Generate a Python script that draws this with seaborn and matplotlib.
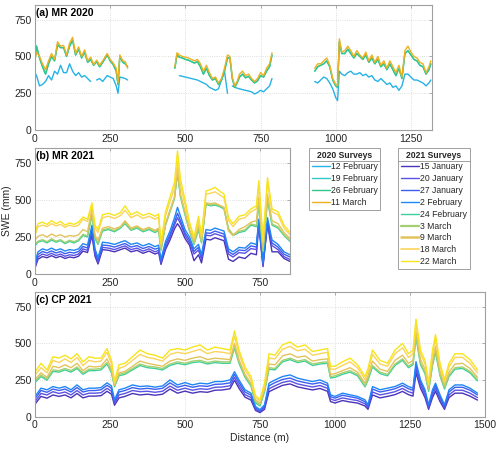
import numpy as np
import pandas as pd
import matplotlib
matplotlib.use('Agg')
import matplotlib.pyplot as plt
import seaborn as sns
from matplotlib.lines import Line2D

nan = np.nan

# ---------------- (a) MR 2020 ----------------
dist_a = [0, 5, 15, 25, 35, 45, 55, 65, 75, 85, 95, 105, 115, 125, 135, 145, 155, 165, 175, 185,
          195, 205, 215, 225, 240, 250, 260, 270, 276, 282, 292, 300, 308,
          nan,
          465, 472, 480, 490, 500, 510, 520, 530, 540, 550, 560, 570, 580, 590, 600, 610, 620, 630,
          640, 648, 656, 664, 672, 680, 690, 700, 710, 720, 730, 740, 750, 760, 770, 780, 788,
          nan,
          930, 940, 950, 960, 970, 980, 990, 1000, 1006, 1012, 1020, 1030, 1040, 1050, 1060, 1070,
          1080, 1090, 1100, 1110, 1120, 1130, 1140, 1150, 1160, 1170, 1180, 1190, 1200, 1210, 1220,
          1230, 1240, 1250, 1260, 1270, 1280, 1290, 1300, 1310, 1316]

a_feb12 = [390, 370, 300, 310, 330, 370, 340, 400, 380, 440, 390, 390, 450, 400, 370, 390, 360, 370, 350, 330,
           nan, 340, 350, 330, 370, 360, 350, 300, 250, 360, 355, 350, 340,
           nan,
           345, nan, 370, 365, 360, 355, 350, 345, 340, 330, 320, 310, 290, 280, 270, 280, 340, 400,
           250, nan, 300, 290, 285, 280, 275, 270, 265, 260, 245, 255, 270, 260, 280, 300, 350,
           nan,
           330, 320, 340, 360, 350, 320, 280, 220, 200, 400, 380, 370, 390, 400, 380, 380,
           390, 370, 380, 360, 370, 340, 330, 350, 330, 310, 320, 290, 300, 270, 300,
           380, 380, 360, 340, 340, 330, 320, 300, 320, 340]
a_feb26 = [470, 570, 490, 430, 380, 450, 500, 470, 580, 560, 560, 500, 570, 610, 510, 550, 490, 530, 460, 480,
           440, 465, 430, 460, 510, 470, 445, 400, 310, 500, 460, 450, 430,
           nan,
           420, 510, 495, 490, 480, 475, 465, 455, 465, 430, 380, 420, 370, 340, 350, 310, 340, 400,
           490, 490, 350, 290, 320, 360, 380, 355, 365, 340, 320, 335, 370, 360, 400, 430, 510,
           nan,
           400, 430, 440, 450, 470, 430, 340, 300, 290, 600, 520, 520, 550, 520, 490, 520,
           500, 480, 510, 460, 490, 450, 480, 430, 450, 410, 450, 410, 370, 420, 350,
           520, 540, 510, 480, 470, 440, 430, 380, 410, 450]
a_feb19 = list(a_feb26)
a_mar11 = [480, 530, 500, 450, 410, 470, 520, 480, 600, 570, 575, 510, 590, 630, 520, 565, 500, 545, 470, 495,
           445, 475, 440, 470, 520, 480, 455, 420, 320, 510, 470, 465, 420,
           nan,
           430, 525, 510, 500, 495, 490, 480, 470, 480, 450, 400, 440, 390, 350, 360, 320, 350, 420,
           510, 500, 360, 300, 330, 380, 400, 370, 380, 350, 330, 350, 390, 370, 420, 450, 525,
           nan,
           420, 450, 450, 470, 490, 440, 350, 310, 300, 620, 530, 540, 570, 540, 500, 540,
           510, 490, 530, 470, 510, 460, 500, 440, 470, 420, 470, 430, 390, 440, 360,
           540, 570, 530, 500, 490, 460, 450, 390, 430, 470]

# ---------------- (b) MR 2021 ----------------
dist_b = [0, 10, 25, 40, 55, 70, 85, 100, 115, 130, 145, 160, 175, 190, 200, 210, 225, 245, 265, 285,
          300, 320, 340, 360, 380, 400, 412, 420, 435, 450, 465, 475, 485, 500, 515, 530, 545, 555, 570, 585,
          600, 615, 630, 645, 660, 680, 700, 720, 738, 746, 760, 775, 790, 810, 830, 850]

b_jan15 = [40, 100, 118, 110, 124, 110, 120, 105, 115, 110, 120, 155, 145, 260, 120, 68, 165, 160, 150, 165,
           175, 150, 160, 140, 155, 135, 145, 65, 165, 230, 305, 340, 310, 240, 195, 90, 130, 75, 235, 230,
           245, 235, 225, 100, 85, 115, 105, 140, 130, 330, 50, 335, 150, 150, 105, 85]
b_jan20 = [52, 115, 135, 125, 140, 125, 135, 120, 130, 125, 135, 170, 160, 280, 135, 80, 180, 175, 165, 180,
           190, 165, 175, 155, 170, 150, 160, 76, 182, 250, 330, 380, 340, 262, 212, 135, 162, 98, 262, 258,
           272, 262, 252, 135, 115, 145, 140, 172, 165, 345, 60, 345, 192, 165, 118, 98]
b_jan27 = [65, 132, 152, 142, 156, 142, 152, 137, 147, 142, 152, 186, 176, 300, 152, 94, 196, 192, 182, 196,
           206, 182, 192, 172, 186, 168, 176, 88, 200, 268, 350, 410, 360, 278, 230, 152, 180, 114, 278, 275,
           290, 280, 270, 152, 132, 162, 158, 190, 182, 350, 70, 355, 210, 182, 134, 115]
b_feb2 = [80, 150, 170, 160, 175, 160, 170, 155, 165, 160, 170, 205, 195, 330, 170, 110, 215, 210, 200, 215,
          225, 200, 210, 190, 205, 185, 195, 100, 220, 290, 380, 450, 390, 300, 250, 170, 200, 130, 300, 295,
          310, 300, 290, 170, 150, 180, 175, 210, 200, 370, 80, 380, 230, 200, 150, 130]
b_feb24 = [190, 215, 225, 210, 230, 215, 225, 205, 220, 210, 225, 260, 250, 400, 240, 200, 290, 300, 285, 310,
           340, 295, 310, 285, 300, 280, 295, 160, 330, 420, 510, 680, 520, 400, 290, 200, 300, 210, 470, 460,
           465, 455, 440, 300, 260, 280, 290, 330, 320, 470, 150, 500, 330, 310, 260, 220]
b_mar3 = [200, 222, 232, 218, 238, 222, 232, 212, 228, 218, 232, 268, 258, 410, 248, 208, 298, 308, 292, 318,
          348, 302, 318, 292, 308, 288, 302, 166, 336, 428, 518, 690, 528, 408, 296, 206, 306, 216, 476, 466,
          472, 462, 446, 306, 266, 288, 298, 338, 328, 480, 156, 508, 338, 318, 266, 226]
b_mar9 = [230, 255, 265, 250, 270, 255, 265, 250, 260, 255, 265, 300, 285, 440, 260, 230, 310, 320, 305, 320,
          360, 310, 325, 300, 315, 295, 310, 180, 340, 430, 520, 710, 540, 420, 300, 225, 330, 230, 480, 475,
          480, 465, 450, 290, 260, 300, 320, 350, 360, 520, 180, 540, 360, 340, 280, 240]
b_mar18 = [260, 320, 330, 320, 340, 325, 335, 315, 330, 320, 330, 370, 355, 460, 310, 280, 380, 390, 375, 395,
           430, 380, 400, 375, 390, 370, 385, 200, 390, 490, 580, 760, 600, 470, 330, 240, 360, 250, 540, 545,
           555, 535, 515, 360, 320, 370, 380, 420, 440, 600, 215, 620, 420, 400, 310, 265]
b_mar22 = [280, 340, 350, 335, 360, 340, 355, 330, 345, 335, 350, 385, 370, 480, 330, 300, 400, 410, 395, 415,
           460, 400, 420, 395, 410, 390, 405, 210, 420, 520, 620, 830, 640, 500, 350, 250, 390, 260, 560, 570,
           585, 560, 540, 380, 340, 390, 400, 440, 460, 630, 230, 650, 440, 420, 330, 280]

# ---------------- (c) CP 2021 ----------------
dist_c = [0, 20, 40, 60, 80, 100, 120, 140, 160, 180, 200, 220, 240, 255, 265, 280, 300, 325, 350, 375,
          400, 425, 450, 475, 500, 525, 550, 575, 600, 625, 650, 665, 680, 700, 720, 735, 750, 765, 780, 800,
          825, 850, 875, 900, 925, 950, 975, 985, 1000, 1025, 1050, 1075, 1100, 1110, 1125, 1150, 1175, 1200,
          1225, 1245, 1260, 1270, 1285, 1300, 1312, 1325, 1335, 1350, 1365, 1380, 1400, 1425, 1450, 1475]

c_jan15 = [88, 140, 128, 150, 140, 150, 130, 160, 130, 142, 142, 145, 175, 155, 80, 130, 140, 160, 150, 155,
           148, 155, 190, 162, 176, 162, 172, 168, 182, 184, 192, 250, 195, 135, 115, 45, 30, 52, 172, 192,
           215, 225, 205, 194, 184, 194, 175, 105, 95, 112, 102, 95, 75, 52, 150, 130, 140, 152,
           174, 152, 142, 300, 196, 132, 52, 132, 175, 105, 52, 132, 162, 162, 142, 115]
c_jan20 = [105, 160, 150, 172, 160, 170, 150, 180, 150, 162, 162, 165, 195, 175, 92, 150, 160, 180, 172, 175,
           168, 175, 210, 182, 196, 182, 192, 188, 202, 204, 212, 270, 215, 152, 132, 52, 36, 62, 192, 212,
           235, 245, 225, 214, 204, 214, 195, 122, 112, 130, 120, 112, 90, 62, 170, 150, 160, 172,
           194, 172, 162, 325, 216, 150, 62, 150, 195, 122, 62, 150, 182, 182, 162, 132]
c_jan27 = [125, 180, 168, 190, 180, 190, 170, 200, 170, 180, 180, 185, 215, 195, 105, 170, 180, 200, 190, 195,
           188, 195, 232, 202, 216, 202, 212, 208, 222, 224, 232, 290, 235, 170, 148, 62, 42, 72, 212, 234,
           255, 265, 245, 234, 224, 234, 214, 138, 128, 148, 138, 128, 104, 72, 190, 170, 180, 192,
           214, 192, 182, 350, 236, 170, 72, 170, 214, 138, 72, 170, 202, 202, 182, 150]
c_feb2 = [140, 196, 185, 207, 196, 207, 185, 218, 185, 196, 196, 200, 232, 211, 117, 185, 196, 218, 207, 211,
          203, 211, 252, 218, 234, 218, 230, 225, 241, 241, 252, 308, 252, 185, 162, 72, 50, 83, 230, 252,
          275, 286, 264, 252, 241, 252, 230, 151, 140, 162, 151, 140, 117, 83, 207, 185, 196, 207,
          230, 207, 196, 376, 252, 185, 83, 185, 230, 151, 83, 185, 218, 218, 196, 162]
c_feb24 = [235, 275, 250, 310, 305, 320, 305, 330, 290, 315, 315, 320, 360, 300, 205, 280, 290, 320, 350, 335,
           330, 320, 350, 365, 355, 370, 375, 360, 370, 365, 365, 470, 365, 270, 210, 95, 75, 170, 325, 320,
           375, 390, 370, 380, 350, 360, 365, 265, 270, 290, 305, 280, 205, 250, 340, 295, 280, 350,
           385, 335, 355, 540, 355, 295, 175, 350, 440, 280, 190, 275, 325, 330, 300, 245]
c_mar3 = [245, 285, 260, 320, 315, 330, 315, 340, 300, 325, 325, 330, 370, 310, 215, 290, 300, 330, 360, 345,
          340, 330, 360, 375, 365, 380, 385, 370, 380, 375, 375, 480, 375, 280, 220, 105, 85, 180, 335, 330,
          385, 400, 380, 390, 360, 370, 375, 275, 280, 300, 315, 290, 215, 260, 350, 305, 290, 360,
          395, 345, 365, 550, 365, 305, 185, 360, 450, 290, 200, 285, 335, 340, 310, 255]
c_mar9 = [255, 300, 270, 345, 335, 355, 335, 365, 315, 345, 340, 345, 395, 325, 215, 300, 310, 345, 380, 365,
          355, 345, 380, 395, 385, 400, 410, 390, 400, 395, 390, 500, 390, 290, 230, 115, 95, 190, 360, 355,
          415, 430, 405, 415, 380, 390, 395, 290, 295, 315, 335, 305, 230, 280, 380, 325, 310, 385,
          420, 365, 385, 580, 390, 325, 200, 385, 480, 310, 220, 305, 360, 365, 330, 270]
c_mar18 = [285, 335, 300, 385, 370, 395, 370, 405, 350, 385, 375, 380, 440, 360, 230, 330, 345, 385, 425, 405,
           395, 380, 425, 440, 430, 445, 460, 430, 445, 440, 430, 550, 430, 320, 255, 130, 110, 210, 400, 395,
           460, 480, 450, 460, 420, 430, 440, 325, 325, 350, 375, 335, 255, 310, 425, 360, 345, 430,
           470, 405, 430, 630, 430, 360, 220, 430, 530, 345, 240, 340, 405, 405, 365, 300]
c_mar22 = [305, 365, 320, 410, 400, 420, 395, 430, 375, 410, 400, 400, 465, 385, 245, 355, 365, 410, 455, 430,
           420, 400, 455, 465, 455, 475, 490, 455, 475, 465, 455, 585, 455, 340, 275, 145, 120, 230, 430, 420,
           490, 510, 475, 490, 445, 455, 465, 345, 345, 375, 400, 355, 275, 330, 455, 385, 365, 455,
           500, 430, 455, 665, 455, 385, 235, 455, 560, 365, 255, 365, 430, 430, 390, 320]

surveys_2020 = ['12 February', '19 February', '26 February', '11 March']
colors_2020 = ['#27b2e6', '#35c9c6', '#30c68c', '#edb120']
surveys_2021 = ['15 January', '20 January', '27 January', '2 February', '24 February',
                '3 March', '9 March', '18 March', '22 March']
colors_2021 = ['#4b33b8', '#5b52e3', '#3d5ef2', '#1f86f5', '#3fcf9a',
               '#a3d070', '#e3c35c', '#fbd45a', '#f7e51b']
widths_2021 = [1.0, 1.0, 1.0, 1.0, 1.0, 1.6, 1.8, 1.2, 1.0]


def long_df(dist, series, names):
    parts = []
    for name, vals in zip(names, series):
        y = np.array(vals, dtype=float)
        seg = np.cumsum(np.isnan(y))
        d = pd.DataFrame({'dist': dist, 'swe': y, 'survey': name, 'seg': seg})
        parts.append(d.dropna())
    return pd.concat(parts, ignore_index=True)


df_a = long_df(dist_a, [a_feb12, a_feb19, a_feb26, a_mar11], surveys_2020)
ser_b = [b_jan15, b_jan20, b_jan27, b_feb2, b_feb24, b_mar3, b_mar9, b_mar18, b_mar22]
ser_c = [c_jan15, c_jan20, c_jan27, c_feb2, c_feb24, c_mar3, c_mar9, c_mar18, c_mar22]
df_b = long_df(dist_b, ser_b, surveys_2021)
df_c = long_df(dist_c, ser_c, surveys_2021)

sns.set_style('whitegrid', {'grid.linestyle': ':', 'grid.color': '#d4d4d4',
                            'axes.edgecolor': '#a0a0a0', 'axes.linewidth': 0.7})
plt.rcParams['font.family'] = ['Liberation Sans', 'DejaVu Sans']

fig = plt.figure(figsize=(5, 4.5), dpi=100)
ax_a = fig.add_axes([0.07, 0.711, 0.794, 0.278])
ax_b = fig.add_axes([0.07, 0.391, 0.51, 0.28])
ax_c = fig.add_axes([0.07, 0.0733, 0.90, 0.278])


def draw(ax, df, names, colors, widths):
    for name, c, w in zip(names, colors, widths):
        sub = df[df['survey'] == name]
        sns.lineplot(data=sub, x='dist', y='swe', units='seg', estimator=None, sort=False,
                     color=c, lw=w, ax=ax, legend=False)


draw(ax_a, df_a, surveys_2020, colors_2020, [1.0] * 4)
draw(ax_b, df_b, surveys_2021, colors_2021, [1.0] * 9)
draw(ax_c, df_c, surveys_2021, colors_2021, [1.0] * 9)

for ax, xmax, xt, title in [(ax_a, 1320, [0, 250, 500, 750, 1000, 1250], '(a) MR 2020'),
                            (ax_b, 850, [0, 250, 500, 750], '(b) MR 2021'),
                            (ax_c, 1500, [0, 250, 500, 750, 1000, 1250, 1500], '(c) CP 2021')]:
    ax.set_xlim(0, xmax)
    ax.set_ylim(0, 850)
    ax.set_xticks(xt)
    ax.set_yticks([0, 250, 500, 750])
    ax.set_xlabel('')
    ax.set_ylabel('')
    ax.tick_params(direction='in', length=2.5, width=0.6, color='#a0a0a0', top=True, right=True,
                   labelsize=7.5, labelcolor='#262626', pad=2.5)
    ax.grid(True, lw=0.6)
    ax.text(0.003, 0.975, title, transform=ax.transAxes, ha='left', va='top',
            fontsize=7.5, fontweight='bold', color='black')

ax_b.set_ylabel('SWE (mm)', fontsize=7.5, color='#262626', labelpad=1.5)
ax_c.set_xlabel('Distance (m)', fontsize=7.5, color='#262626', labelpad=2)

h20 = [Line2D([], [], color=c, lw=1.0) for c in colors_2020]
h21 = [Line2D([], [], color=c, lw=w) for c, w in zip(colors_2021, widths_2021)]
legends = []
for handles, names, title, x0 in [(h20, surveys_2020, '2020 Surveys', 309 / 500),
                                  (h21, surveys_2021, '2021 Surveys', 398 / 500)]:
    leg = fig.legend(handles, names, title=title, loc='upper left',
                     bbox_to_anchor=(x0, 1 - 148 / 450), fontsize=6.2, title_fontsize=6.2,
                     frameon=True, fancybox=False, edgecolor='#a0a0a0', framealpha=1,
                     handlelength=2.1, handletextpad=0.15, labelspacing=0.33, borderpad=0.3,
                     borderaxespad=0)
    leg.get_title().set_fontweight('bold')
    leg.get_frame().set_linewidth(0.7)
    legends.append(leg)

# separator line under each legend title
fig.canvas.draw()
inv = fig.transFigure.inverted()
for leg in legends:
    fb = leg.get_frame().get_window_extent()
    tb = leg.get_title().get_window_extent()
    (x0, _), (x1, _) = inv.transform([(fb.x0, 0), (fb.x1, 0)])
    _, yy = inv.transform((0, tb.y0 - 1.5))
    fig.add_artist(Line2D([x0, x1], [yy, yy], color='#a0a0a0', lw=0.7, zorder=10))

fig.savefig('out.png', dpi=100)
